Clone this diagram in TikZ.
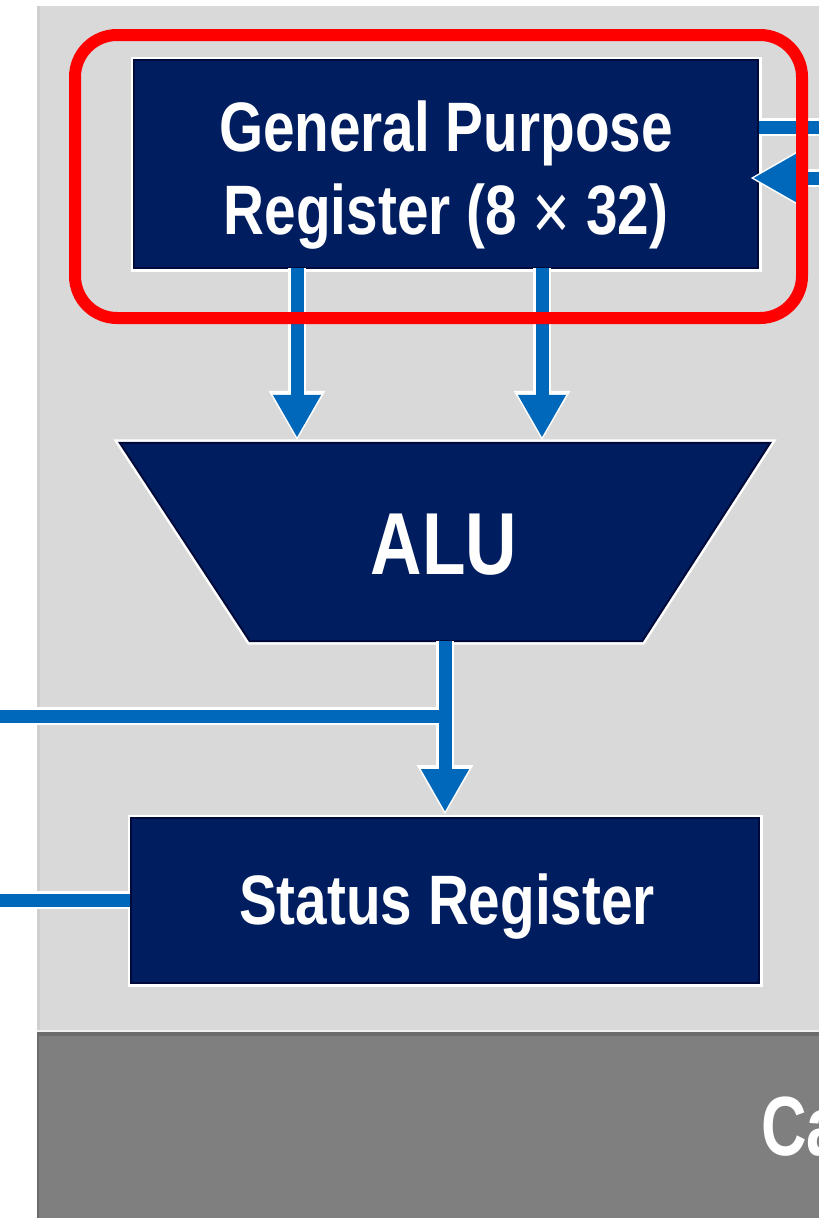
\documentclass[tikz,border=0pt]{standalone}
\usepackage{fontspec}
\usepackage{graphicx}
\setmainfont{Liberation Sans}
\usetikzlibrary{arrows.meta,calc}
\definecolor{navy}{HTML}{001E5F}
\definecolor{navyedge}{HTML}{000A3A}
\definecolor{ablue}{HTML}{0068BA}
\definecolor{panel}{HTML}{D9D9D9}
\definecolor{panedge}{HTML}{CFCFCF}
\definecolor{band}{HTML}{7F7F7F}
\definecolor{bandedge}{HTML}{6B6B6B}
\definecolor{hilite}{HTML}{FF0000}
\newcommand\nx[1]{\scalebox{0.81}[1]{#1}}
\tikzset{
  box/.style={fill=navy, draw=navyedge, line width=2pt,
    preaction={draw=white, line width=7pt}, inner sep=0pt},
  lbl/.style={text=white, inner sep=0pt, align=center,
    font=\fontsize{70}{83}\selectfont\bfseries},
  halo/.style={draw=white, line width=18pt},
  wire/.style={draw=ablue, line width=13pt},
}
\begin{document}
\begin{tikzpicture}[x=1pt,y=-1pt]
\useasboundingbox (0,0) rectangle (819,1218);
% background panel
\fill[panel] (37,6) rectangle (819,1030);
\fill[panedge] (37,6) rectangle (40,1030);
\fill[white!94!black] (37,1030) rectangle (819,1032);
\fill[band] (37,1032) rectangle (819,1218);
\fill[bandedge] (37,1032) rectangle (819,1036);
\fill[bandedge] (37,1032) rectangle (39,1218);
\begin{scope}
\clip (37,1032) rectangle (819,1218);
\node[text=white, inner sep=0pt, anchor=base west,
  font=\fontsize{84}{90}\selectfont\bfseries] (cap) at (761,1155) {\scalebox{0.75}[1]{Ca}};
\end{scope}

% nodes
\node[box, minimum width=624pt, minimum height=208pt] (gpr) at (446,164) {};
\node[lbl] (gprt) at (446,175) {\nx{General Purpose}\\\nx{Register (8 \raisebox{-5pt}{\mdseries\fontsize{80}{83}\selectfont ×} 32)}};
\node[box, minimum width=628pt, minimum height=165pt] (sr) at (445,900.5) {};
\node[lbl] (srt) at (447,907) {\nx{Status Register}};
\path node[minimum width=650pt, minimum height=198pt, inner sep=0pt] (alu) at (445,542) {};
\draw[fill=navy, draw=navyedge, line width=2pt, preaction={draw=white, line width=7pt}]
  (alu.north west) -- (alu.north east) -- ([xshift=-128pt]alu.south east)
  -- ([xshift=130pt]alu.south west) -- cycle;
\node[lbl, font=\fontsize{88}{90}\selectfont\bfseries] (alut) at (444,545) {\nx{ALU}};

% connector end points
\coordinate (g1) at (297,268);
\coordinate (g2) at (542,268);
\coordinate (l1) at (-10,716);
\coordinate (l2) at (-10,900);
\coordinate (r1) at (830,127);
\coordinate (r2) at (830,178);

% connectors: white halo pass, then blue pass
\foreach \s/\w/\l/\o in {halo/53/50/3, wire/45/43/0}{
  \draw[\s, -{Triangle[width=\w pt,length=\l pt]}, shorten >=5pt-\o pt] (g1) -- (g1 |- alu.north);
  \draw[\s, -{Triangle[width=\w pt,length=\l pt]}, shorten >=5pt-\o pt] (g2) -- (g2 |- alu.north);
  \draw[\s, -{Triangle[width=\w pt,length=\l pt]}, shorten >=5pt-\o pt] (alu.south) -- (sr.north);
  \draw[\s] (l1) -- (alu.south |- l1);
  \draw[\s] (l2) -- (sr.west |- l2);
  \draw[\s] (r1) -- (gpr.east |- r1);
  \draw[\s, -{Triangle[width=\w pt,length=\l pt]}, shorten >=-6pt-\o pt] (r2) -- (gpr.east |- r2);
}

% red highlight
\draw[hilite, line width=12pt, rounded corners=42pt] (75,35) rectangle (802,318);
\end{tikzpicture}
\end{document}
